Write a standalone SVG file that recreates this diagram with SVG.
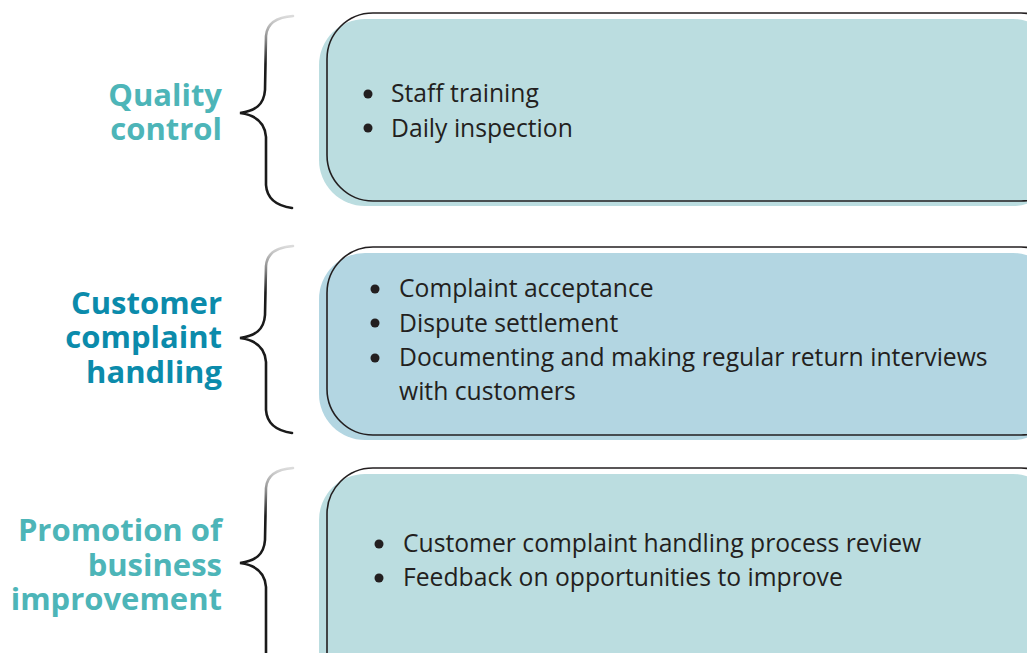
<svg xmlns="http://www.w3.org/2000/svg" width="1027" height="653" viewBox="0 0 1027 653">
<defs>
<linearGradient id="bg" x1="0" y1="0" x2="0" y2="1">
<stop offset="0" stop-color="#dcdcdc"/>
<stop offset="0.12" stop-color="#8a8a8a"/>
<stop offset="0.25" stop-color="#1a1a1a"/>
<stop offset="1" stop-color="#1a1a1a"/>
</linearGradient>
<style>
.lbl{font-family:"Open Sans","Noto Sans",sans-serif;font-weight:bold;font-size:31px;text-anchor:end}
.teal{fill:#4db5b8}
.blue{fill:#0b8bab}
.item{font-family:"Open Sans","Noto Sans",sans-serif;font-size:24.7px;fill:#231f20}
.brace{fill:none;stroke:url(#bg);stroke-width:2.6;stroke-linecap:round}
.outline{fill:none;stroke:#231f20;stroke-width:1.6}
.dot{fill:#231f20}
</style>
</defs>
<rect width="1027" height="653" fill="#ffffff"/>
<g id="connectors">
<path class="brace" d="M 293 16 C 278 17 267 22 266 36 L 265 90 C 264 105 255 111 240 113 C 255 115 265 122 266 137 L 266 185 C 267 200 278 206 292 208"/>
<path class="brace" d="M 293 246 C 278 247 267 252 266 266 L 265 315 C 264 330 255 336 240 338 C 255 340 265 347 266 362 L 266 410 C 267 425 278 431 292 433"/>
<path class="brace" d="M 293 468 C 278 469 267 474 266 488 L 265 540 C 264 555 255 561 240 563 C 255 565 265 572 266 587 L 266 660"/>
</g>
<g id="quality-control">
<text class="lbl teal" x="222" y="106">Quality</text>
<text class="lbl teal" x="222" y="140">control</text>
</g>
<g id="quality-box">
<rect x="319" y="19" width="740" height="187" rx="46" fill="#bbdde0"/>
<rect class="outline" x="327" y="13" width="740" height="188" rx="46"/>
<circle class="dot" cx="368" cy="94" r="4.5"/>
<text class="item" x="391" y="102">Staff training</text>
<circle class="dot" cx="368" cy="128" r="4.5"/>
<text class="item" x="391" y="137">Daily inspection</text>
</g>
<g id="customer-complaint-handling">
<text class="lbl blue" x="222" y="314">Customer</text>
<text class="lbl blue" x="222" y="348">complaint</text>
<text class="lbl blue" x="222" y="383">handling</text>
</g>
<g id="complaint-box">
<rect x="319" y="253" width="740" height="187" rx="46" fill="#b3d6e2"/>
<rect class="outline" x="327" y="247" width="740" height="188" rx="46"/>
<circle class="dot" cx="375" cy="289" r="4.5"/>
<text class="item" x="399" y="297">Complaint acceptance</text>
<circle class="dot" cx="375" cy="323" r="4.5"/>
<text class="item" x="399" y="332">Dispute settlement</text>
<circle class="dot" cx="375" cy="358" r="4.5"/>
<text class="item" x="399" y="366">Documenting and making regular return interviews</text>
<text class="item" x="399" y="400">with customers</text>
</g>
<g id="promotion-of-business-improvement">
<text class="lbl teal" x="222" y="541">Promotion of</text>
<text class="lbl teal" x="222" y="576">business</text>
<text class="lbl teal" x="222" y="610">improvement</text>
</g>
<g id="improvement-box">
<rect x="319" y="474" width="740" height="260" rx="46" fill="#bbdde0"/>
<rect class="outline" x="327" y="468" width="740" height="260" rx="46"/>
<circle class="dot" cx="379" cy="544" r="4.5"/>
<text class="item" x="403" y="552">Customer complaint handling process review</text>
<circle class="dot" cx="379" cy="578" r="4.5"/>
<text class="item" x="403" y="586">Feedback on opportunities to improve</text>
</g>
</svg>
